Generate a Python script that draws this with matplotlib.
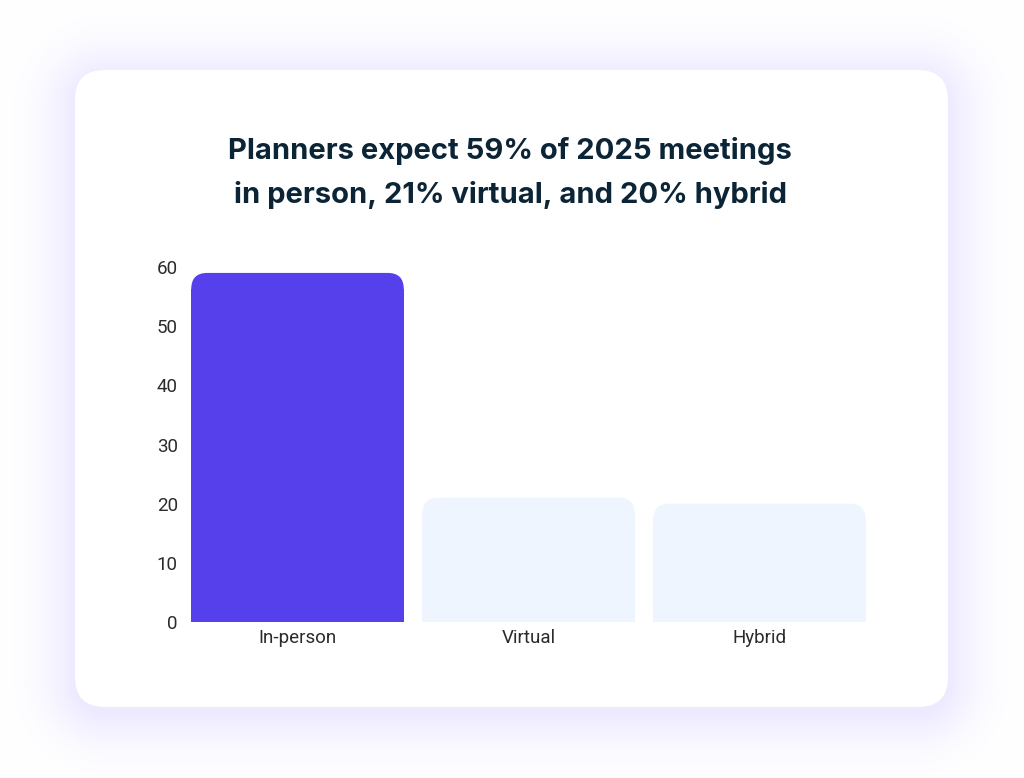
import numpy as np
import matplotlib.pyplot as plt
from matplotlib.patches import FancyBboxPatch, Rectangle

categories = ["In-person", "Virtual", "Hybrid"]
values = [59, 21, 20]
bar_colors = ["#5640EB", "#EEF5FE", "#EEF5FE"]
yticks = [0, 10, 20, 30, 40, 50, 60]
title = "Planners expect 59% of 2025 meetings\nin person, 21% virtual, and 20% hybrid"

W, H = 1024, 778
fig = plt.figure(figsize=(W / 100, H / 100), dpi=100)
fig.patch.set_facecolor("#FEFEFF")

# background layer in pixel coordinates: glow + white card
bg = fig.add_axes([0, 0, 1, 1])
bg.set_xlim(0, W)
bg.set_ylim(H, 0)
bg.axis("off")

cx0, cy0, cx1, cy1 = 75, 70, 948, 707
rad = 30
# soft shadow around the card
yy, xx = np.mgrid[0:H, 0:W] + 0.5
mx, my = (cx0 + cx1) / 2, (cy0 + cy1) / 2 + 6
hw, hh = (cx1 - cx0) / 2 - rad, (cy1 - cy0) / 2 - rad
dx = np.clip(np.abs(xx - mx) - hw, 0, None)
dy = np.clip(np.abs(yy - my) - hh, 0, None)
dist = np.hypot(dx, dy) - rad
glow_a = np.clip(1 - dist / 65, 0, 1) ** 1.8 * 0.6
rgba = np.zeros((H, W, 4))
rgba[..., 0] = 0xE2 / 255
rgba[..., 1] = 0xDC / 255
rgba[..., 2] = 1.0
rgba[..., 3] = glow_a
bg.imshow(rgba, extent=(0, W, H, 0), interpolation="bilinear", zorder=0)
bg.set_xlim(0, W)
bg.set_ylim(H, 0)

card = FancyBboxPatch((cx0, cy0), cx1 - cx0, cy1 - cy0,
                      boxstyle=f"round,pad=0,rounding_size={rad}",
                      facecolor="white", edgecolor="none", zorder=1)
bg.add_patch(card)

bg.text(W / 2 - 2, 173, title, ha="center", va="center", fontsize=21,
        fontweight="bold", family="Inter", color="#0B2436", linespacing=1.75, zorder=2)

ax = fig.add_axes([182 / W, 156 / H, 693 / W, 355 / H])
ax.set_facecolor("none")
bars = ax.bar(range(len(categories)), values, width=0.92, color=bar_colors)
ax.set_xlim(-0.5, 2.5)
ax.set_ylim(0, 60)

# rounded top corners
rx = 16 / 230.5
ry = 16 / 5.917
for b in bars:
    b.set_visible(False)
    x, w, h = b.get_x(), b.get_width(), b.get_height()
    c = b.get_facecolor()
    ax.add_patch(FancyBboxPatch((x, 0), w, h,
                                boxstyle=f"round,pad=0,rounding_size={rx}",
                                mutation_aspect=ry / rx, facecolor=c, edgecolor="none"))
    ax.add_patch(Rectangle((x, 0), w, h - ry, facecolor=c, edgecolor="none"))

ax.set_xticks(range(len(categories)))
ax.set_xticklabels(categories)
ax.set_yticks(yticks)
for s in ax.spines.values():
    s.set_visible(False)
ax.tick_params(length=0, labelsize=13.5, labelcolor="#2B2B2B")
ax.tick_params(axis="x", pad=5)
ax.tick_params(axis="y", pad=3)
for lab in ax.get_xticklabels() + ax.get_yticklabels():
    lab.set_family("Roboto")

plt.savefig("out.png", dpi=100, facecolor=fig.get_facecolor())
